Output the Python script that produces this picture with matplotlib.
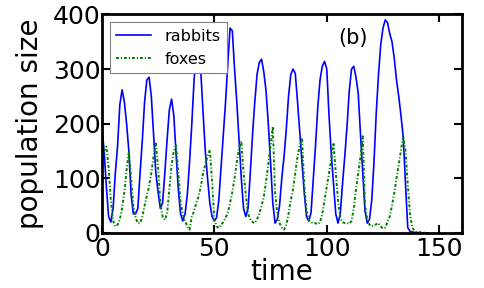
import numpy as np
import matplotlib
matplotlib.use('Agg')
import matplotlib.pyplot as plt

# population counts, one value per time unit (t = 0..145)
rabbits = [195, 150, 85, 30, 20, 45, 110, 160, 235, 262,
           240, 200, 150, 70, 35, 35, 45, 110, 170, 240,
           280, 285, 250, 180, 110, 75, 45, 55, 110, 170,
           225, 245, 215, 145, 80, 35, 22, 35, 70, 130,
           200, 280, 330, 330, 295, 220, 150, 100, 55, 30,
           22, 28, 60, 120, 180, 240, 310, 375, 370, 300,
           240, 170, 100, 45, 30, 45, 110, 180, 240, 290,
           312, 318, 295, 260, 200, 130, 55, 18, 25, 50,
           100, 140, 190, 250, 290, 300, 292, 240, 185, 130,
           73, 30, 22, 37, 100, 160, 230, 280, 305, 314,
           300, 215, 145, 90, 35, 18, 35, 90, 140, 195,
           260, 300, 305, 285, 255, 180, 110, 40, 18, 25,
           60, 130, 220, 290, 345, 375, 390, 385, 365, 350,
           320, 280, 250, 215, 175, 90, 10, 3, 2, 1,
           1, 0, 0, 0, 0, 0]
foxes = [135, 150, 158, 120, 60, 22, 12, 15, 25, 45,
         75, 115, 149, 100, 50, 28, 18, 18, 30, 50,
         68, 85, 110, 140, 164, 120, 55, 30, 24, 35,
         80, 125, 150, 160, 110, 55, 35, 22, 12, 6,
         30, 40, 55, 67, 85, 110, 125, 140, 152, 95,
         25, 12, 9, 15, 20, 28, 37, 55, 75, 100,
         130, 155, 168, 110, 70, 35, 25, 20, 18, 25,
         35, 50, 65, 95, 125, 160, 195, 75, 35, 18,
         10, 6, 15, 35, 60, 80, 110, 140, 160, 174,
         85, 40, 24, 20, 18, 18, 16, 20, 35, 60,
         85, 110, 135, 165, 110, 60, 28, 20, 18, 18,
         17, 22, 45, 80, 110, 140, 177, 50, 25, 15,
         12, 14, 16, 18, 12, 8, 10, 20, 30, 50,
         73, 100, 125, 152, 177, 150, 90, 35, 10, 4,
         2, 2, 1, 1, 0, 0]
time = np.arange(len(rabbits))

plt.rcParams['font.family'] = 'DejaVu Sans'

fig = plt.figure(figsize=(4.85, 2.88), dpi=100)
ax = fig.add_axes([0.210, 0.191, 0.742, 0.759])

ax.plot(time, rabbits, '-', color='b', lw=1.2, label='rabbits')
ax.plot(time, foxes, color='g', lw=1.4, ls=(0, (1.5, 1, 0.6, 1)),
        label='foxes')

ax.set_xlim(0, 160)
ax.set_ylim(0, 400)
ax.set_xticks([0, 50, 100, 150])
ax.set_yticks([0, 100, 200, 300, 400])
ax.tick_params(direction='in', length=6, width=1.5, labelsize=18,
               top=True, right=True)
ax.tick_params(axis='y', pad=1)
ax.tick_params(axis='x', pad=3)
for s in ax.spines.values():
    s.set_linewidth(2)

ax.set_xlabel('time', fontsize=20, labelpad=-2)
ax.set_ylabel('population size', fontsize=20, labelpad=6)

leg = ax.legend(loc='upper left', fontsize=11.5, fancybox=False,
                framealpha=1, edgecolor='gray', handlelength=2.2,
                borderaxespad=0.5)
leg.get_frame().set_linewidth(0.8)

ax.text(0.699, 0.894, '(b)', transform=ax.transAxes, fontsize=15,
        ha='center', va='center')

fig.savefig('out.png', dpi=100)
